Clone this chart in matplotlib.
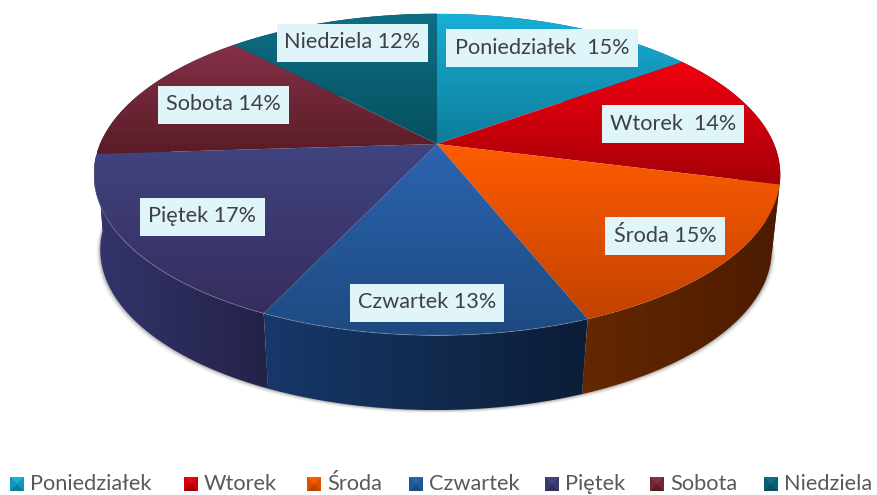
import numpy as np
import matplotlib
matplotlib.use("Agg")
import matplotlib.pyplot as plt
from matplotlib.colors import LinearSegmentedColormap
from matplotlib.patches import Polygon, Rectangle

plt.rcParams['font.family'] = ['Lato', 'DejaVu Sans']

days = ['Poniedziałek', 'Wtorek', 'Środa', 'Czwartek', 'Piętek', 'Sobota', 'Niedziela']
percents = [15, 14, 15, 13, 17, 14, 12]
label_texts = ['Poniedziałek  15%', 'Wtorek  14%', 'Środa 15%', 'Czwartek 13%',
               'Piętek 17%', 'Sobota 14%', 'Niedziela 12%']

top_colors = [('#18b0d6', '#0d7c9b'), ('#f20010', '#a50008'), ('#ff5c00', '#c24200'),
              ('#2b64b0', '#1e4a80'), ('#40447f', '#362d5e'), ('#853047', '#5a1c26'),
              ('#0d6f86', '#06505f')]
side_colors = [('#0a5a70', '#0a5a70'), ('#7a0006', '#5a0004'), ('#652800', '#4c1b00'),
               ('#17386a', '#0c1d36'), ('#33356c', '#232248'), ('#33356c', '#33356c'),
               ('#053f4c', '#053f4c')]
legend_x = [10, 184, 307, 409, 545, 650, 764]
label_boxes = [(446, 29, 192, 38), (602, 105, 142, 38), (605, 217, 120, 38), (350, 284, 154, 38),
               (140, 198, 125, 38), (158, 86, 131, 38), (277, 24, 151, 38)]

W, H = 877, 495
CX, CY = 437, 144
A, B, K = 337, 155, 0.19
WALL = 77


def project(theta, k=K, sx=1.0, dx=0.0, dy=0.0):
    x, y = np.sin(theta), np.cos(theta)
    w = 1 + k * y
    return CX + dx + sx * A * x / w, CY - B * y / w + dy


def project_bottom(theta, extra=0.0):
    return project(theta, k=0.18, sx=0.98, dx=-1, dy=WALL + extra)


def gradient_patch(ax, verts, c0, c1, horizontal=False):
    # image filled with a linear gradient, clipped to the polygon
    poly = Polygon(verts, closed=True, fc='none', ec='none', transform=ax.transData)
    ax.add_patch(poly)
    cmap = LinearSegmentedColormap.from_list('g', [c0, c1])
    xmin, ymin = verts.min(axis=0)
    xmax, ymax = verts.max(axis=0)
    grad = np.linspace(0, 1, 256)
    grad = grad.reshape(1, -1) if horizontal else grad.reshape(-1, 1)
    im = ax.imshow(grad, cmap=cmap, extent=(xmin, xmax, ymax, ymin), aspect='auto',
                   origin='upper', zorder=poly.get_zorder(), interpolation='bilinear')
    im.set_clip_path(poly)
    return im


fig = plt.figure(figsize=(W / 100, H / 100), dpi=100)
ax = fig.add_axes([0, 0, 1, 1])

edges = np.radians(np.concatenate([[0], np.cumsum(percents)]) * 3.6)

# soft shadow under the wall
t = np.linspace(np.radians(85), np.radians(275), 200)
for off, alpha in zip([6, 4, 2.5, 1], [0.05, 0.07, 0.09, 0.12]):
    sx, sy = project_bottom(t, off * 0.5)
    tx, ty = project(t, sx=0.93, dy=40)
    pts = np.vstack([np.c_[sx + np.sign(np.sin(t)) * off * 0.6, sy], np.c_[tx, ty][::-1]])
    ax.add_patch(Polygon(pts, closed=True, fc='black', ec='none', alpha=alpha))

# walls first, the top covers whatever is behind it
for i in range(len(days)):
    t = np.linspace(edges[i], edges[i + 1], 80)
    x0, y0 = project(t)
    x1, y1 = project_bottom(t)
    verts = np.vstack([np.c_[x0, y0], np.c_[x1, y1][::-1]])
    gradient_patch(ax, verts, side_colors[i][0], side_colors[i][1], horizontal=True)

# top of the pie
for i in range(len(days)):
    t = np.linspace(edges[i], edges[i + 1], 80)
    x0, y0 = project(t)
    verts = np.vstack([[CX, CY], np.c_[x0, y0]])
    gradient_patch(ax, verts, top_colors[i][0], top_colors[i][1])

# thin light rim at the front of the top
t = np.linspace(edges[3] + 0.02, np.radians(262), 200)
x0, y0 = project(t)
ax.plot(x0, y0, color='white', alpha=0.14, lw=0.9)

# data labels
for text, (bx, by, bw, bh) in zip(label_texts, label_boxes):
    ax.add_patch(Rectangle((bx, by), bw, bh, fc='#dff5fa', ec='none', zorder=5))
    ax.text(bx + bw / 2, by + bh / 2 - 0.5, text, ha='center', va='center',
            fontsize=15.6, color='#404040', zorder=6)

# legend
for i, name in enumerate(days):
    lx = legend_x[i]
    ly = 477.5
    s = 14
    u, v = np.meshgrid(np.linspace(-1, 1, 40), np.linspace(-1, 1, 40))
    cmap = LinearSegmentedColormap.from_list('g', [top_colors[i][1], top_colors[i][0]])
    # pyramid shading: bright top facet, dark bottom facet
    shade = np.where(v < -np.abs(u), 1.0, np.where(v > np.abs(u), 0.0, 0.5))
    ax.imshow(shade, cmap=cmap, extent=(lx, lx + s, ly + s, ly), aspect='auto', zorder=5,
              vmin=0, vmax=1, interpolation='bilinear')
    ax.text(lx + s + 6, ly + 6, name, ha='left', va='center', fontsize=15.7, color='#595959')

ax.set_xlim(0, W)
ax.set_ylim(H, 0)
ax.axis('off')

fig.savefig('out.png', dpi=100)
